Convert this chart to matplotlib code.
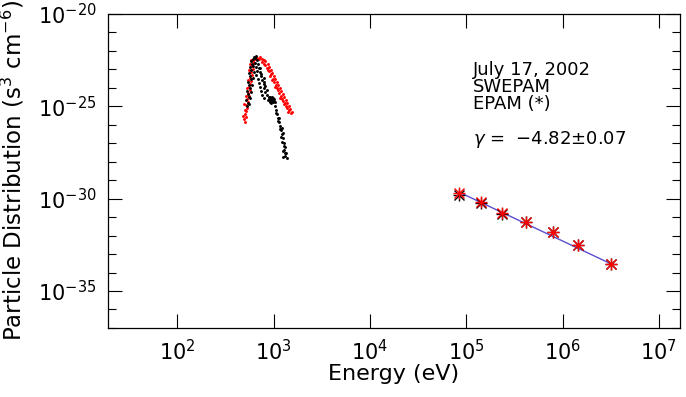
import matplotlib

matplotlib.use("Agg")
import matplotlib.pyplot as plt  # noqa: E402
from matplotlib.ticker import FixedLocator, NullFormatter, NullLocator  # noqa: E402

# SWEPAM distribution, two sweeps (black and red dots)
swepam_black_e = [536, 549, 523, 562, 549, 536, 576, 562, 549, 590, 576, 562, 590, 576,
                  604, 590, 619, 634, 649, 665,
                  681, 698, 715, 732, 750, 768, 787, 806, 825, 846, 887, 931, 976, 909,
                  953, 1000, 866, 931, 1024, 1049, 1075, 1101, 1127, 1155, 1183, 1212,
                  1241, 1271, 1302, 1271, 1334, 1302, 1366,
                  649, 665, 681, 665, 698, 715, 732, 750, 768, 806, 732, 750, 787, 806,
                  825, 846, 619, 634, 619, 604, 590, 576, 562,
                  909, 953, 1000, 887, 1024, 976, 909,
                  1049, 1101, 1127, 1155, 1212, 1183, 1241, 1212, 1271, 1241, 1302, 1241]
swepam_black_f = [1.06e-25, 1.55e-25, 2.24e-25, 3.27e-25, 4.7e-25, 6.9e-25, 1.0e-24,
                  1.45e-24, 2.11e-24, 3.06e-24, 4.5e-24, 6.5e-24, 9.4e-24, 1.36e-23,
                  1.98e-23, 2.88e-23, 3.70e-23, 4.74e-23, 4.19e-23, 5.37e-23,
                  3.27e-23, 1.98e-23, 1.20e-23, 7.3e-24, 4.5e-24, 2.7e-24, 1.64e-24,
                  1.0e-24, 6.1e-25, 4.2e-25, 3.27e-25, 2.54e-25, 2.88e-25, 1.98e-25,
                  2.24e-25, 1.98e-25, 2.24e-25, 1.55e-25, 1.06e-25, 6.5e-26, 3.9e-26,
                  2.39e-26, 1.45e-26, 8.8e-27, 5.4e-27, 3.27e-27, 1.98e-27, 1.06e-27,
                  6.5e-28, 4.5e-28, 3.06e-28, 2.11e-28, 1.64e-28,
                  2.24e-23, 1.36e-23, 8.3e-24, 5.0e-24, 3.06e-24, 1.86e-24, 1.13e-24,
                  6.9e-25, 4.2e-25, 2.88e-25, 1.20e-23, 5.7e-24, 3.5e-24, 2.11e-24,
                  1.28e-24, 7.8e-25, 1.55e-23, 7.3e-24, 3.5e-24, 1.45e-24, 6.1e-25,
                  2.88e-25, 1.36e-25,
                  3.27e-25, 3.27e-25, 2.54e-25, 2.54e-25, 1.75e-25, 1.75e-25, 1.75e-25,
                  4.5e-26, 1.64e-26, 2.39e-26, 6.1e-27, 6.9e-27, 2.24e-27, 3.7e-27,
                  1.20e-27, 7.3e-28, 3.9e-28, 3.06e-28, 1.86e-28]

swepam_red_e = [511, 499, 523, 511, 523, 536, 523, 549, 536, 562, 549, 576, 562, 576,
                590, 576, 604, 590, 619, 604, 634, 619, 649,
                681, 715, 732, 768, 806,
                768, 806, 825, 846, 866, 887, 931, 909, 953, 976, 1000, 1049, 1024,
                1075, 1101, 1127, 1183, 1155, 1212, 1241, 1302, 1271, 1334, 1366,
                1433, 1399, 1503,
                825, 866, 887, 931, 953, 1000, 1024, 1075, 1101, 1155, 1183, 1241,
                1271, 1334, 1366, 1433, 1468, 1540,
                487, 511, 499, 523, 536, 549, 562, 576, 590]
swepam_red_f = [1.45e-26, 2.11e-26, 2.7e-26, 3.9e-26, 5.7e-26, 8.3e-26, 1.20e-25,
                1.75e-25, 2.54e-25, 3.7e-25, 5.4e-25, 7.8e-25, 1.13e-24, 1.64e-24,
                2.39e-24, 3.5e-24, 5.0e-24, 7.3e-24, 1.06e-23, 1.55e-23, 2.24e-23,
                2.88e-23, 3.70e-23,
                4.19e-23, 3.70e-23, 4.74e-23, 3.70e-23, 3.27e-23,
                2.54e-23, 1.98e-23, 1.75e-23, 1.20e-23, 9.4e-24, 8.3e-24, 5.7e-24,
                4.5e-24, 2.7e-24, 3.06e-24, 2.11e-24, 1.45e-24, 1.13e-24, 1.0e-24,
                7.8e-25, 5.4e-25, 3.7e-25, 2.88e-25, 2.54e-25, 1.98e-25, 1.55e-25,
                1.36e-25, 1.06e-25, 8.3e-26, 6.5e-26, 5.0e-26, 4.5e-26,
                2.88e-23, 1.98e-23, 1.36e-23, 9.4e-24, 6.5e-24, 4.5e-24, 3.06e-24,
                2.11e-24, 1.45e-24, 1.0e-24, 6.9e-25, 4.7e-25, 3.27e-25, 2.24e-25,
                1.55e-25, 1.06e-25, 7.3e-26, 5.0e-26,
                3.06e-26, 6.5e-26, 1.36e-25, 3.7e-25, 1.0e-24, 2.7e-24, 9.4e-24,
                1.98e-23, 3.27e-23]

# EPAM channels (asterisks)
epam_e = [85e3, 143e3, 237e3, 420e3, 790e3, 1.43e6, 3.16e6]
epam_black_f = [1.65e-30, 6.1e-31, 1.55e-31, 5.7e-32, 1.64e-32, 3.27e-33, 3.06e-34]
epam_red_f = [2.11e-30, 6.9e-31, 1.75e-31, 5.7e-32, 1.64e-32, 3.27e-33, 3.06e-34]

# power-law fit end points
fit_e = [85e3, 3.16e6]
fit_f = [2.2e-30, 3.0e-34]

x_ticks = [1e2, 1e3, 1e4, 1e5, 1e6, 1e7]
x_labels = [r"$10^{%d}$" % p for p in (2, 3, 4, 5, 6, 7)]
y_ticks = [1e-35, 1e-30, 1e-25, 1e-20]
y_labels = [r"$10^{%d}$" % p for p in (-35, -30, -25, -20)]
y_minor = [10.0 ** p for p in range(-37, -19)]

fig = plt.figure(figsize=(6.86, 3.97), dpi=100)
ax = fig.add_axes([0.157, 0.174, 0.834, 0.791])

ax.plot(swepam_red_e, swepam_red_f, "o", color="red", ms=2.1, mew=0)
ax.plot(swepam_black_e, swepam_black_f, "o", color="black", ms=2.1, mew=0)

ax.plot(fit_e, fit_f, color="#5a4fd0", lw=1.0)
for fvals, col in ((epam_black_f, "black"), (epam_red_f, "red")):
    ax.plot(epam_e, fvals, "+", color=col, ms=9, mew=1.0)
    ax.plot(epam_e, fvals, "x", color=col, ms=6.5, mew=1.0)

ax.set_xscale("log")
ax.set_yscale("log")
ax.set_xlim(19, 1.65e7)
ax.set_ylim(1e-37, 1e-20)

ax.xaxis.set_major_locator(FixedLocator(x_ticks))
ax.set_xticklabels(x_labels)
ax.xaxis.set_minor_locator(NullLocator())
ax.yaxis.set_major_locator(FixedLocator(y_ticks))
ax.set_yticklabels(y_labels)
ax.yaxis.set_minor_locator(FixedLocator(y_minor))
ax.yaxis.set_minor_formatter(NullFormatter())

ax.tick_params(which="both", direction="in", top=True, right=True,
               labelsize=15, width=0.8)
ax.tick_params(which="major", length=10, pad=8)
ax.tick_params(which="minor", length=6)
for spine in ax.spines.values():
    spine.set_linewidth(0.9)

ax.set_xlabel("Energy (eV)", fontsize=16, labelpad=0)
ax.set_ylabel(r"Particle Distribution (s$^3$ cm$^{-6}$)", fontsize=16.5, labelpad=8)

tx = 473 / 686
fig.text(tx, 1 - 70 / 397, "July 17, 2002", fontsize=13, va="center")
fig.text(tx, 1 - 87 / 397, "SWEPAM", fontsize=13, va="center")
fig.text(tx, 1 - 104 / 397, "EPAM (*)", fontsize=13, va="center")
fig.text(tx, 1 - 140 / 397, r"$\gamma$ =  −4.82±0.07", fontsize=13, va="center")

fig.savefig("out.png", dpi=100)
